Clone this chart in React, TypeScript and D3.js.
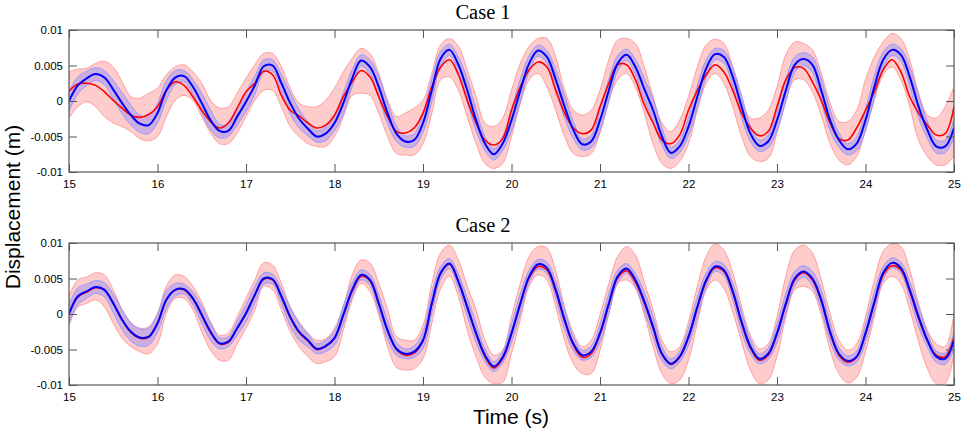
import React, { useEffect, useRef } from 'react';
import * as d3 from 'd3';

// sample times: 15.0 .. 25.0 every 0.1 s
const times = d3.range(101).map((i) => 15 + i / 10);

const xTicks = [15, 16, 17, 18, 19, 20, 21, 22, 23, 24, 25];
const yTicks = [0.01, 0.005, 0, -0.005, -0.01];
const yTickLabels = ['0.01', '0.005', '0', '-0.005', '-0.01'];

// Case 1
const blueMean1 = [
  0.0, 0.0022, 0.0032, 0.0038, 0.0033, 0.0016, -0.0003, -0.002, -0.0032, -0.0034,
  -0.0017, 0.0015, 0.0033, 0.0035, 0.002, -0.0003, -0.0027, -0.0042, -0.0042, -0.0022,
  -0.0001, 0.0022, 0.0049, 0.005, 0.0025, -0.0003, -0.0025, -0.0039, -0.005, -0.0046,
  -0.0031, -0.0003, 0.0032, 0.0057, 0.0048, 0.002, -0.0017, -0.0046, -0.0057, -0.0055,
  -0.0031, 0.0015, 0.006, 0.0072, 0.0051, 0.0015, -0.0027, -0.006, -0.0075, -0.006,
  -0.0027, 0.0015, 0.0053, 0.0071, 0.0062, 0.003, -0.0008, -0.0041, -0.0061, -0.0057,
  -0.0027, 0.0015, 0.0053, 0.0065, 0.0048, 0.0017, -0.0013, -0.005, -0.0073, -0.0064,
  -0.0036, 0.0006, 0.0046, 0.0066, 0.0062, 0.0034, -0.0008, -0.0046, -0.0063, -0.0057,
  -0.0027, 0.0015, 0.0051, 0.0059, 0.0051, 0.0015, -0.0027, -0.0055, -0.0068, -0.006,
  -0.0027, 0.002, 0.0058, 0.0072, 0.0065, 0.0034, -0.0008, -0.0041, -0.0064, -0.0064,
  -0.0038,
];
const blueSpread1 = [
  0.0014, 0.0012, 0.001, 0.0009, 0.001, 0.0013, 0.0015, 0.0014, 0.0012, 0.0012,
  0.0014, 0.0014, 0.001, 0.0008, 0.001, 0.0014, 0.0014, 0.001, 0.0008, 0.0012,
  0.0014, 0.0013, 0.0009, 0.0008, 0.0012, 0.0015, 0.0013, 0.001, 0.0008, 0.001,
  0.0011, 0.0015, 0.0012, 0.0008, 0.001, 0.0015, 0.0015, 0.0011, 0.0008, 0.0009,
  0.0013, 0.0016, 0.001, 0.0008, 0.0011, 0.0016, 0.0015, 0.001, 0.0008, 0.001,
  0.0015, 0.0016, 0.0011, 0.0008, 0.0009, 0.0014, 0.0016, 0.0012, 0.0008, 0.0009,
  0.0015, 0.0016, 0.0011, 0.0008, 0.0011, 0.0015, 0.0016, 0.0012, 0.0008, 0.0009,
  0.0013, 0.0016, 0.0012, 0.0008, 0.0009, 0.0013, 0.0016, 0.0011, 0.0008, 0.0009,
  0.0015, 0.0016, 0.0011, 0.0009, 0.0011, 0.0016, 0.0015, 0.001, 0.0008, 0.001,
  0.0015, 0.0016, 0.0011, 0.0008, 0.0009, 0.0014, 0.0016, 0.0012, 0.0009, 0.0009,
  0.0013,
];
const redMean1 = [
  0.0014, 0.0024, 0.0025, 0.0022, 0.0013, 0.0001, -0.001, -0.002, -0.0023, -0.0019,
  -0.0008, 0.0015, 0.0027, 0.0022, 0.0006, -0.0013, -0.0029, -0.0038, -0.0031, -0.001,
  0.0013, 0.0025, 0.0042, 0.0037, 0.0008, -0.0013, -0.0021, -0.0031, -0.0038, -0.0034,
  -0.002, 0.0006, 0.0027, 0.0043, 0.0034, 0.0006, -0.0022, -0.0043, -0.0045, -0.0038,
  -0.0017, 0.002, 0.0048, 0.0058, 0.0037, 0.0001, -0.0031, -0.0055, -0.0062, -0.0053,
  -0.0013, 0.002, 0.0044, 0.0055, 0.0048, 0.0015, -0.0017, -0.0038, -0.0046, -0.0041,
  -0.0008, 0.0025, 0.0051, 0.0051, 0.003, -0.0005, -0.0031, -0.0055, -0.006, -0.0048,
  -0.0013, 0.0015, 0.0037, 0.0051, 0.0041, 0.0015, -0.0017, -0.0038, -0.0049, -0.0043,
  -0.0008, 0.003, 0.0047, 0.0046, 0.0027, 0.0001, -0.0031, -0.0053, -0.0055, -0.0038,
  -0.0013, 0.0013, 0.0044, 0.0058, 0.0041, 0.0006, -0.0017, -0.0034, -0.0048, -0.0046,
  -0.0008,
];
const redUpper1 = [
  0.0041, 0.0045, 0.0046, 0.0053, 0.0056, 0.0048, 0.0027, 0.0006, 0.0004, 0.0011,
  0.0018, 0.0037, 0.0048, 0.0051, 0.0041, 0.0025, 0.0001, -0.001, -0.0008, 0.0011,
  0.0032, 0.0051, 0.0067, 0.0067, 0.0048, 0.0018, -0.0003, -0.0008, -0.0008, 0.0001,
  0.0018, 0.0041, 0.006, 0.0074, 0.0067, 0.0039, 0.0001, -0.0022, -0.0017, -0.001,
  0.0001, 0.0039, 0.0079, 0.0088, 0.0077, 0.0044, 0.0006, -0.0031, -0.0036, -0.0024,
  0.0015, 0.0053, 0.0077, 0.0088, 0.0088, 0.0062, 0.0015, -0.0013, -0.002, -0.0013,
  0.0015, 0.0058, 0.0086, 0.0088, 0.0081, 0.0048, 0.0006, -0.0031, -0.0043, -0.0027,
  0.0006, 0.0048, 0.0079, 0.0087, 0.0081, 0.0048, 0.0001, -0.0024, -0.0024, -0.0013,
  0.002, 0.0065, 0.0083, 0.0081, 0.0072, 0.0039, -0.0003, -0.0029, -0.0029, -0.0013,
  0.003, 0.0062, 0.0083, 0.0095, 0.0088, 0.0058, 0.0011, -0.002, -0.0024, -0.0008,
  0.002,
];
const redLower1 = [
  -0.0024, -0.0008, -0.0001, -0.0008, -0.0022, -0.0031, -0.0036, -0.0043, -0.0053, -0.0056,
  -0.005, -0.0022, 0.0001, 0.0008, 0.0001, -0.0022, -0.0045, -0.006, -0.006, -0.0045,
  -0.0022, 0.0001, 0.0015, 0.0015, -0.0008, -0.0036, -0.005, -0.006, -0.0064, -0.0064,
  -0.005, -0.0022, 0.0008, 0.0011, 0.0008, -0.0017, -0.005, -0.0074, -0.0076, -0.0076,
  -0.006, -0.0017, 0.003, 0.0034, 0.0015, -0.0022, -0.006, -0.0088, -0.0095, -0.0088,
  -0.005, -0.0003, 0.003, 0.0039, 0.002, -0.0013, -0.005, -0.0074, -0.0078, -0.0074,
  -0.0045, 0.0001, 0.003, 0.0039, 0.002, -0.0017, -0.006, -0.0088, -0.0095, -0.0085,
  -0.006, -0.0013, 0.0025, 0.0039, 0.0025, -0.0008, -0.005, -0.0078, -0.0085, -0.0081,
  -0.0045, 0.0001, 0.003, 0.003, 0.0013, -0.002, -0.006, -0.0083, -0.009, -0.0078,
  -0.0041, 0.0001, 0.0037, 0.0048, 0.003, -0.0008, -0.0055, -0.0078, -0.009, -0.009,
  -0.0078,
];

// Case 2
const blueMean2 = [
  0.0, 0.0025, 0.0032, 0.0038, 0.0034, 0.0015, -0.0008, -0.0025, -0.0033, -0.0032,
  -0.0013, 0.002, 0.0034, 0.0035, 0.0022, -0.0001, -0.0025, -0.0041, -0.0039, -0.002,
  0.0001, 0.0027, 0.005, 0.0049, 0.0025, -0.0004, -0.0025, -0.0037, -0.0049, -0.0045,
  -0.0034, -0.0001, 0.0034, 0.0055, 0.0048, 0.0015, -0.0023, -0.0049, -0.0056, -0.0053,
  -0.0037, 0.0015, 0.0058, 0.0071, 0.0046, 0.001, -0.0027, -0.0058, -0.0074, -0.0061,
  -0.0027, 0.0015, 0.0053, 0.007, 0.0065, 0.0034, -0.0008, -0.0042, -0.0058, -0.0053,
  -0.0027, 0.0015, 0.0053, 0.0064, 0.0048, 0.0018, -0.0018, -0.0056, -0.007, -0.006,
  -0.0032, 0.001, 0.0048, 0.0067, 0.0062, 0.0032, -0.0011, -0.0046, -0.0063, -0.0056,
  -0.0027, 0.0015, 0.005, 0.006, 0.005, 0.002, -0.0025, -0.0056, -0.0066, -0.006,
  -0.0027, 0.0017, 0.0058, 0.0072, 0.0065, 0.0034, -0.0004, -0.0037, -0.006, -0.0063,
  -0.0037,
];
const blueSpread2 = [
  0.0013, 0.0012, 0.001, 0.0009, 0.001, 0.0013, 0.0014, 0.0013, 0.0012, 0.0012,
  0.0013, 0.0013, 0.0009, 0.0007, 0.0009, 0.0012, 0.0012, 0.0008, 0.0007, 0.001,
  0.0012, 0.0012, 0.0008, 0.0007, 0.001, 0.0013, 0.0012, 0.0009, 0.0007, 0.0008,
  0.001, 0.0013, 0.001, 0.0007, 0.0008, 0.0012, 0.0013, 0.0009, 0.0007, 0.0008,
  0.0012, 0.0014, 0.0009, 0.0007, 0.001, 0.0013, 0.0013, 0.0009, 0.0007, 0.0008,
  0.0013, 0.0014, 0.0009, 0.0007, 0.0008, 0.0012, 0.0014, 0.001, 0.0007, 0.0008,
  0.0013, 0.0014, 0.0009, 0.0007, 0.0009, 0.0013, 0.0014, 0.001, 0.0007, 0.0008,
  0.0012, 0.0014, 0.001, 0.0007, 0.0008, 0.0012, 0.0014, 0.001, 0.0007, 0.0008,
  0.0013, 0.0014, 0.001, 0.0008, 0.001, 0.0014, 0.0013, 0.0009, 0.0007, 0.0008,
  0.0013, 0.0014, 0.0009, 0.0007, 0.0008, 0.0012, 0.0014, 0.001, 0.0008, 0.0008,
  0.0012,
];
const redMean2 = [
  0.0001, 0.0024, 0.0031, 0.0037, 0.0034, 0.0015, -0.0008, -0.0026, -0.0034, -0.0033,
  -0.0013, 0.002, 0.0034, 0.0034, 0.0021, -0.0002, -0.0026, -0.0042, -0.004, -0.002,
  0.0001, 0.0027, 0.0049, 0.0048, 0.0024, -0.0005, -0.0026, -0.0038, -0.005, -0.0046,
  -0.0034, -0.0002, 0.0032, 0.0053, 0.0047, 0.0014, -0.0024, -0.005, -0.0058, -0.0055,
  -0.0038, 0.0014, 0.0057, 0.007, 0.0045, 0.0009, -0.0028, -0.006, -0.0076, -0.0063,
  -0.0028, 0.0014, 0.0051, 0.0067, 0.0062, 0.0032, -0.001, -0.0044, -0.0061, -0.0056,
  -0.0028, 0.0013, 0.0051, 0.0061, 0.0045, 0.0016, -0.002, -0.0057, -0.0071, -0.0061,
  -0.0033, 0.0009, 0.0046, 0.0065, 0.006, 0.003, -0.0013, -0.0048, -0.0065, -0.0058,
  -0.0028, 0.0013, 0.0048, 0.0058, 0.0048, 0.0018, -0.0027, -0.0058, -0.0068, -0.0061,
  -0.0028, 0.0015, 0.0055, 0.0068, 0.0062, 0.0032, -0.0006, -0.0038, -0.0058, -0.006,
  -0.0033,
];
const redUpper2 = [
  0.0025, 0.0048, 0.0052, 0.0058, 0.0055, 0.0034, 0.0006, -0.0013, -0.002, -0.0018,
  0.0001, 0.0039, 0.0055, 0.0053, 0.0039, 0.0017, -0.0011, -0.003, -0.0027, -0.0004,
  0.0022, 0.0048, 0.0072, 0.0069, 0.0043, 0.001, -0.0011, -0.0027, -0.0037, -0.0035,
  -0.002, 0.001, 0.0055, 0.0076, 0.0072, 0.0043, 0.0006, -0.0032, -0.0037, -0.0037,
  -0.0016, 0.0043, 0.0086, 0.0097, 0.0076, 0.0039, 0.0006, -0.0037, -0.0058, -0.0051,
  -0.0004, 0.0043, 0.0081, 0.0095, 0.0093, 0.006, 0.001, -0.0027, -0.0046, -0.0037,
  -0.0001, 0.0043, 0.0081, 0.0095, 0.0083, 0.0045, 0.0006, -0.0037, -0.0053, -0.0046,
  -0.0011, 0.0039, 0.0081, 0.0099, 0.009, 0.0058, 0.001, -0.003, -0.0049, -0.0042,
  -0.0004, 0.0053, 0.009, 0.0097, 0.0086, 0.0048, 0.0001, -0.0037, -0.0051, -0.0042,
  -0.0004, 0.0048, 0.0088, 0.0099, 0.0095, 0.0062, 0.0015, -0.0023, -0.0042, -0.0046,
  0.0001,
];
const redLower2 = [
  -0.0016, 0.001, 0.0015, 0.002, 0.001, -0.0013, -0.0034, -0.0046, -0.0053, -0.0056,
  -0.0042, 0.0001, 0.0022, 0.0022, 0.0006, -0.0025, -0.0051, -0.0065, -0.0065, -0.0042,
  -0.002, 0.0006, 0.0039, 0.0034, 0.0006, -0.0025, -0.0046, -0.006, -0.007, -0.0067,
  -0.006, -0.0023, 0.002, 0.0043, 0.0032, -0.0001, -0.0046, -0.0075, -0.0079, -0.0077,
  -0.0063, -0.0013, 0.0036, 0.0053, 0.0025, -0.0023, -0.006, -0.0089, -0.0098, -0.0096,
  -0.0056, -0.0008, 0.0039, 0.0055, 0.0048, 0.001, -0.0037, -0.007, -0.0084, -0.0084,
  -0.0051, 0.0001, 0.0043, 0.0048, 0.0036, -0.0001, -0.0046, -0.0084, -0.0098, -0.0093,
  -0.0065, -0.0013, 0.0034, 0.0048, 0.0036, 0.0003, -0.0039, -0.0079, -0.0098, -0.0093,
  -0.006, -0.0004, 0.0034, 0.0039, 0.0032, -0.0001, -0.0051, -0.0084, -0.0097, -0.0089,
  -0.0053, -0.0004, 0.0043, 0.0053, 0.0043, 0.0006, -0.0039, -0.0077, -0.0098, -0.0098,
  -0.0056,
];

const panels = [
  { title: 'Case 1', top: 30, red: redMean1, redLo: redLower1, redHi: redUpper1, blue: blueMean1, spread: blueSpread1 },
  { title: 'Case 2', top: 243, red: redMean2, redLo: redLower2, redHi: redUpper2, blue: blueMean2, spread: blueSpread2 },
];

const W = 963;
const H = 434;
const left = 69;
const right = 954;
const plotH = 142;

export default function App() {
  const svgRef = useRef<SVGSVGElement>(null);

  useEffect(() => {
    if (!svgRef.current) return;
    const svg = d3.select(svgRef.current);
    svg.selectAll('*').remove();

    const x = d3.scaleLinear().domain([15, 25]).range([left, right]);

    panels.forEach((p, pi) => {
      const y = d3.scaleLinear().domain([-0.01, 0.01]).range([p.top + plotH, p.top]);
      const clipId = `clip${pi}`;
      svg
        .append('clipPath')
        .attr('id', clipId)
        .append('rect')
        .attr('x', left)
        .attr('y', p.top)
        .attr('width', right - left)
        .attr('height', plotH);

      const g = svg.append('g').attr('clip-path', `url(#${clipId})`);
      const idx = d3.range(times.length);
      const curve = d3.curveCatmullRom;

      // red band
      const redArea = d3
        .area<number>()
        .x((i) => x(times[i]))
        .y0((i) => y(p.redLo[i]))
        .y1((i) => y(p.redHi[i]))
        .curve(curve);
      g.append('path').attr('d', redArea(idx)).attr('fill', '#ffcccc').attr('stroke', '#ff9e9e').attr('stroke-width', 1);

      // blue band
      const blueArea = d3
        .area<number>()
        .x((i) => x(times[i]))
        .y0((i) => y(p.blue[i] - p.spread[i]))
        .y1((i) => y(p.blue[i] + p.spread[i]))
        .curve(curve);
      g.append('path')
        .attr('d', blueArea(idx))
        .attr('fill', 'rgb(130,130,255)')
        .attr('fill-opacity', 0.4)
        .attr('stroke', '#9a9aff')
        .attr('stroke-width', 1);

      const line = (vals: number[]) =>
        d3
          .line<number>()
          .x((i) => x(times[i]))
          .y((i) => y(vals[i]))
          .curve(curve)(idx);

      g.append('path').attr('d', line(p.red)).attr('fill', 'none').attr('stroke', '#ff0000').attr('stroke-width', 1.6);
      g.append('path').attr('d', line(p.blue)).attr('fill', 'none').attr('stroke', '#0000ff').attr('stroke-width', 2);

      // axes
      const axisColor = '#555';
      const style = (a: d3.Selection<SVGGElement, unknown, null, undefined>) => {
        a.select('.domain').remove();
        a.selectAll('line').attr('stroke', axisColor);
        a.selectAll('text').attr('fill', '#000').style('font-family', '"Liberation Sans", Arial, sans-serif').style('font-size', '11.5px');
      };

      svg
        .append('g')
        .attr('transform', `translate(0,${p.top + plotH})`)
        .call(d3.axisBottom(x).tickValues(xTicks).tickSize(-8).tickPadding(8).tickFormat(d3.format('d')))
        .call(style);
      svg
        .append('g')
        .attr('transform', `translate(0,${p.top})`)
        .call(d3.axisTop(x).tickValues(xTicks).tickSize(-8).tickFormat(() => ''))
        .call(style);
      svg
        .append('g')
        .attr('transform', `translate(${left},0)`)
        .call(
          d3
            .axisLeft(y)
            .tickValues(yTicks)
            .tickSize(-8)
            .tickPadding(6)
            .tickFormat((_, i) => yTickLabels[i])
        )
        .call(style);
      svg
        .append('g')
        .attr('transform', `translate(${right},0)`)
        .call(d3.axisRight(y).tickValues(yTicks).tickSize(-8).tickFormat(() => ''))
        .call(style);

      svg
        .append('rect')
        .attr('x', left)
        .attr('y', p.top)
        .attr('width', right - left)
        .attr('height', plotH)
        .attr('fill', 'none')
        .attr('stroke', axisColor)
        .attr('stroke-width', 1.2);

      svg
        .append('text')
        .attr('x', 483)
        .attr('y', p.top - 11)
        .attr('text-anchor', 'middle')
        .style('font-family', '"Liberation Serif", "Times New Roman", serif')
        .style('font-size', '20.5px')
        .text(p.title);
    });

    svg
      .append('text')
      .attr('x', 511)
      .attr('y', 424)
      .attr('text-anchor', 'middle')
      .style('font-family', '"Liberation Sans", Arial, sans-serif')
      .style('font-size', '21px')
      .text('Time (s)');

    svg
      .append('text')
      .attr('transform', 'translate(20,207) rotate(-90)')
      .attr('text-anchor', 'middle')
      .style('font-family', '"Liberation Sans", Arial, sans-serif')
      .style('font-size', '21px')
      .text('Displacement (m)');
  }, []);

  return (
    <div style={{ position: 'absolute', left: 0, top: 0, background: '#fff' }}>
      <svg ref={svgRef} width={W} height={H} style={{ display: 'block' }} />
    </div>
  );
}
